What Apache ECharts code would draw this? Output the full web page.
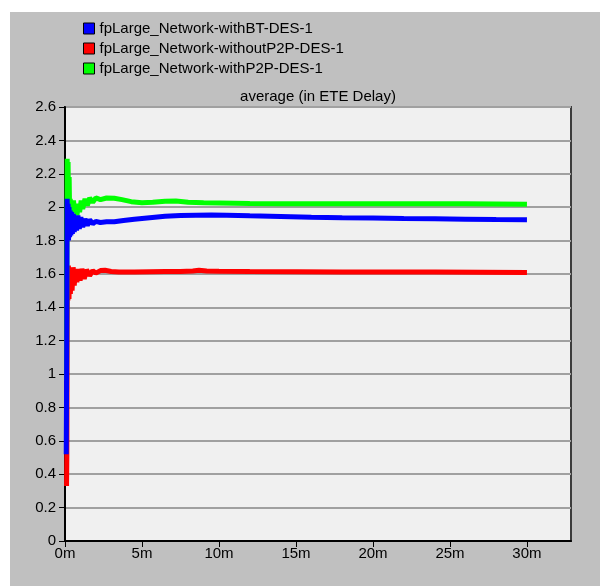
<!DOCTYPE html>
<html>
<head>
<meta charset="utf-8">
<script src="https://cdn.jsdelivr.net/npm/echarts@6/dist/echarts.min.js"></script>
<style>
html,body{margin:0;padding:0;background:#fff;}
#chart{width:600px;height:586px;}
</style>
</head>
<body>
<div id="chart"></div>
<script>
// ---- data (time in minutes, value) ----
const seriesNames = ['fpLarge_Network-withBT-DES-1', 'fpLarge_Network-withoutP2P-DES-1', 'fpLarge_Network-withP2P-DES-1'];
const seriesColors = ['#0000ff', '#ff0000', '#00ff00'];
const chartTitle = 'average (in ETE Delay)';
const xTicks = [0, 5, 10, 15, 20, 25, 30];
const yTicks = [0, 0.2, 0.4, 0.6, 0.8, 1, 1.2, 1.4, 1.6, 1.8, 2, 2.2, 2.4, 2.6];

const withBT = [
  [0.08, 0.52], [0.1, 0.9], [0.12, 1.44], [0.14, 2.05], [0.17, 1.82], [0.2, 2.02], [0.23, 1.8], [0.26, 2.0],
  [0.3, 1.82], [0.34, 1.98], [0.38, 1.83], [0.43, 1.97], [0.48, 1.84], [0.54, 1.96], [0.6, 1.85], [0.67, 1.95],
  [0.75, 1.86], [0.84, 1.95], [0.93, 1.87], [1.03, 1.94], [1.15, 1.88], [1.3, 1.93], [1.45, 1.89], [1.6, 1.925],
  [1.8, 1.9], [2.0, 1.915], [2.3, 1.908], [2.7, 1.912], [3.2, 1.913], [3.8, 1.92], [4.5, 1.928], [5.5, 1.937],
  [6.5, 1.945], [7.5, 1.95], [8.5, 1.952], [9.5, 1.953], [10.5, 1.952], [12, 1.948], [14, 1.944], [16, 1.94],
  [18, 1.937], [20, 1.935], [22, 1.932], [24, 1.93], [26, 1.928], [28, 1.926], [30, 1.925]
];
const withoutP2P = [
  [0.1, 0.33], [0.12, 0.52], [0.14, 1.3], [0.16, 1.64], [0.19, 1.44], [0.22, 1.65], [0.26, 1.45], [0.3, 1.64],
  [0.35, 1.48], [0.4, 1.63], [0.46, 1.5], [0.53, 1.64], [0.6, 1.53], [0.68, 1.63], [0.77, 1.55], [0.87, 1.63],
  [0.98, 1.56], [1.1, 1.63], [1.25, 1.57], [1.4, 1.625], [1.6, 1.59], [1.8, 1.62], [2.0, 1.605], [2.3, 1.62],
  [2.6, 1.622], [3.0, 1.615], [3.5, 1.612], [4.5, 1.612], [5.5, 1.613], [6.5, 1.614], [7.5, 1.615], [8.3, 1.618],
  [8.7, 1.622], [9.2, 1.618], [10, 1.616], [12, 1.614], [15, 1.613], [18, 1.612], [21, 1.612], [24, 1.611],
  [27, 1.61], [30, 1.608]
];
const withP2P = [
  [0.1, 0.96], [0.12, 1.6], [0.14, 2.29], [0.17, 2.1], [0.2, 2.27], [0.23, 2.0], [0.27, 2.18], [0.3, 1.97],
  [0.34, 2.05], [0.38, 1.96], [0.43, 2.04], [0.48, 1.97], [0.55, 2.04], [0.62, 1.98], [0.7, 2.0], [0.78, 1.95],
  [0.86, 2.02], [0.95, 1.97], [1.05, 2.04], [1.15, 1.99], [1.3, 2.05], [1.45, 2.01], [1.6, 2.055], [1.8, 2.03],
  [2.0, 2.055], [2.3, 2.045], [2.7, 2.055], [3.2, 2.053], [3.7, 2.045], [4.3, 2.033], [5, 2.027], [5.7, 2.029],
  [6.5, 2.036], [7.2, 2.037], [8, 2.03], [9, 2.026], [10, 2.025], [12, 2.022], [14, 2.02], [17, 2.02],
  [20, 2.02], [23, 2.02], [26, 2.02], [30, 2.018]
];
const seriesData = [withBT, withoutP2P, withP2P];
const seriesZ = [4, 2, 3];

const FONT = '"Liberation Sans", Arial, sans-serif';
const chart = echarts.init(document.getElementById('chart'), null, {renderer: 'canvas'});
chart.setOption({
  animation: false,
  backgroundColor: '#ffffff',
  graphic: [
    {type: 'rect', z: -10, silent: true, shape: {x: 10, y: 12, width: 590, height: 574}, style: {fill: '#c0c0c0'}},
    {type: 'text', z: 10, x: 318, y: 97, style: {text: chartTitle, font: '15px ' + FONT, fill: '#000', align: 'center', verticalAlign: 'middle', textAlign: 'center', textVerticalAlign: 'middle'}}
  ],
  legend: {
    orient: 'vertical', left: 78, top: 16, itemGap: 5,
    icon: 'rect', itemWidth: 11, itemHeight: 11,
    itemStyle: {borderColor: '#000', borderWidth: 1},
    textStyle: {fontFamily: FONT, fontSize: 15, color: '#000'},
    data: seriesNames
  },
  grid: {
    left: 65, right: 29, top: 107, bottom: 45, show: true,
    backgroundColor: '#f0f0f0', borderColor: '#3c3c3c', borderWidth: 2
  },
  xAxis: {
    type: 'value', min: 0, max: 32.86,
    axisLine: {show: true, lineStyle: {color: '#000', width: 2}},
    axisTick: {show: true, inside: false, length: 6, lineStyle: {color: '#000'}, customValues: xTicks},
    axisLabel: {customValues: xTicks, formatter: v => v + 'm', fontFamily: FONT, fontSize: 15, color: '#000', margin: 5},
    splitLine: {show: false}
  },
  yAxis: {
    type: 'value', min: 0, max: 2.6, interval: 0.2,
    axisLine: {show: true, lineStyle: {color: '#000', width: 2}},
    axisTick: {show: true, inside: false, length: 6, lineStyle: {color: '#000'}, customValues: yTicks},
    axisLabel: {customValues: yTicks, formatter: v => String(+v.toFixed(1)), fontFamily: FONT, fontSize: 15, color: '#000', margin: 9},
    splitLine: {show: true, lineStyle: {color: '#a0a0a0', width: 2}}
  },
  series: seriesNames.map((name, i) => ({
    name: name, type: 'line', data: seriesData[i], z: seriesZ[i],
    showSymbol: false, symbol: 'none', color: seriesColors[i],
    lineStyle: {color: seriesColors[i], width: 5}
  }))
});
</script>
</body>
</html>
